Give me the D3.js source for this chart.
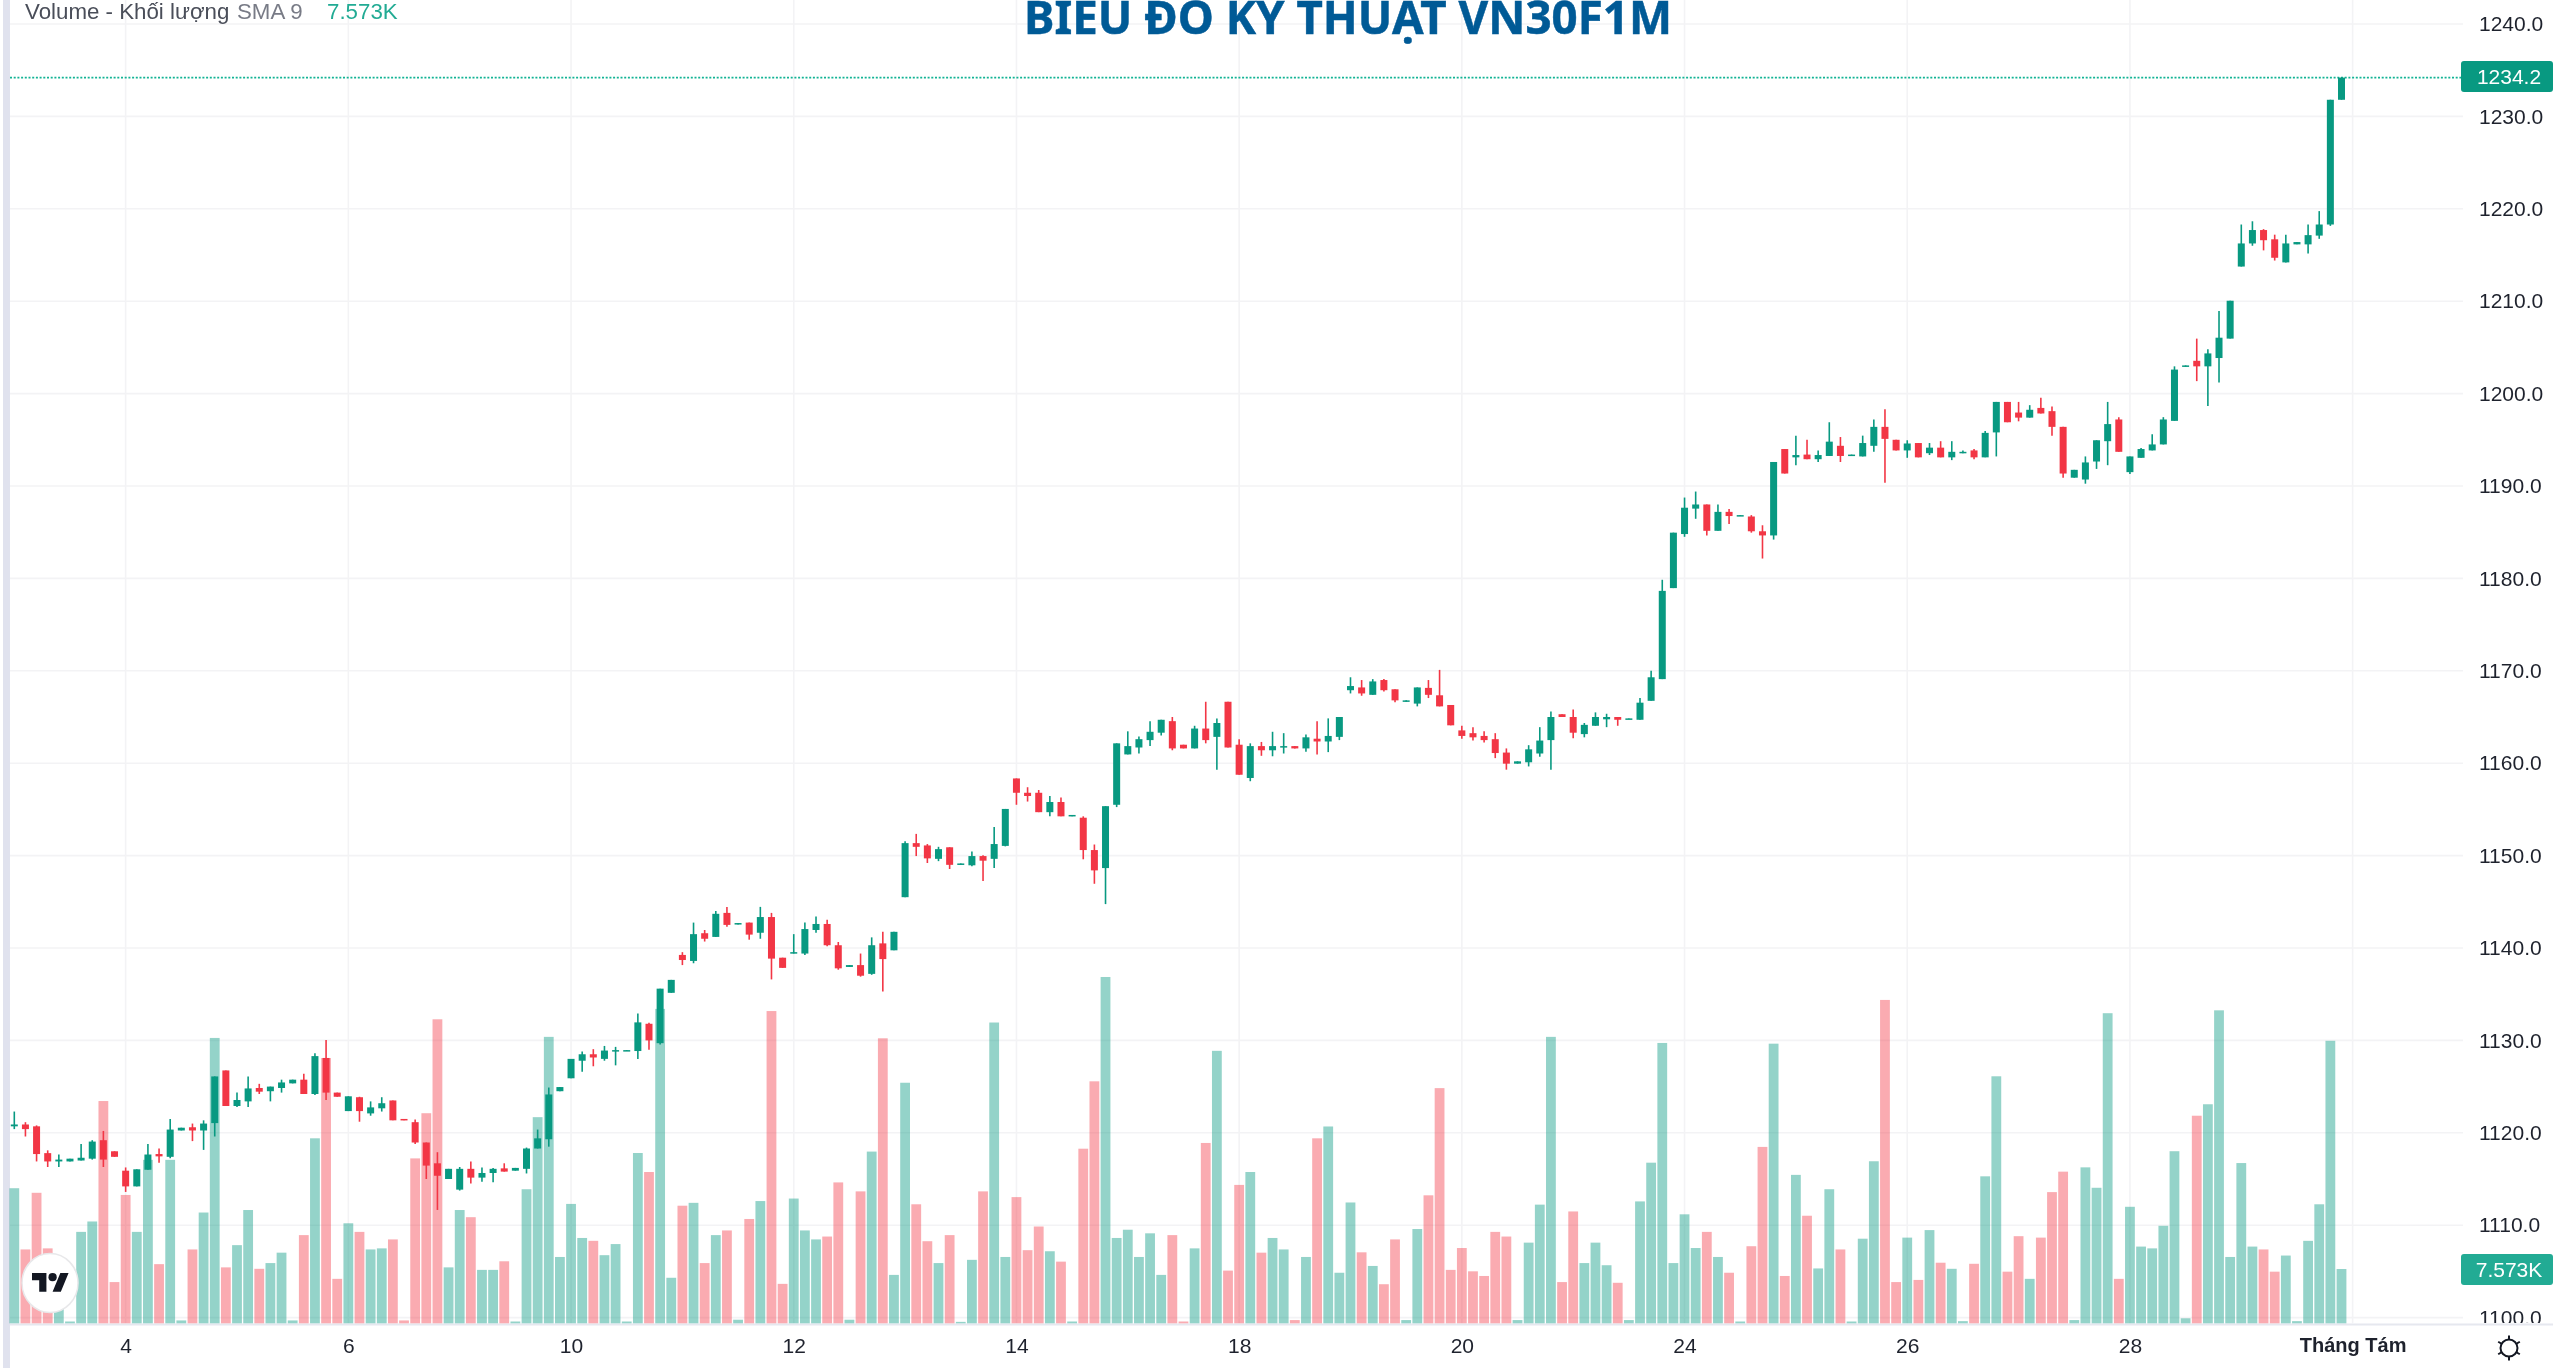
<!DOCTYPE html>
<html><head><meta charset="utf-8">
<style>html,body{margin:0;padding:0;background:#fff;overflow:hidden}svg{display:block;filter:blur(.45px)}</style>
<script src="https://cdn.jsdelivr.net/npm/d3@7"></script></head><body>
<script>
const opens=[1120.7,1120.9,1120.7,1117.8,1116.9,1116.9,1117,1117.2,1119.2,1118,
1115.9,1114.2,1116,1117.7,1117.4,1120.25,1120.6,1120.25,1121.05,1126.75,
1122.9,1123.4,1124.85,1124.5,1124.85,1125.35,1125.75,1124.2,1128.1,1124.35,
1122.35,1123.85,1122.1,1122.65,1123.5,1121.5,1121.15,1118.95,1116.7,1115,
1113.85,1116.1,1115.15,1115.65,1116.15,1115.9,1116.1,1118.3,1119.3,1124.5,
1125.9,1127.8,1128.5,1128,1128.85,1128.85,1128.85,1131.8,1129.7,1135.15,
1139.25,1138.6,1141.6,1141.2,1143.8,1142.55,1142.75,1141.65,1143.35,1138.95,
1139.4,1139.4,1141.95,1142.6,1140.3,1137.95,1138.15,1137.2,1140.5,1139.75,
1145.5,1151.35,1151.1,1149.65,1150.9,1149,1148.95,1149.95,1149.65,1151.05,
1158.35,1156.8,1156.8,1154.7,1155.8,1154.25,1154.1,1150.6,1148.65,1155.5,
1160.95,1161.7,1162.5,1163.3,1164.55,1162,1161.6,1163.75,1162.85,1166.65,
1162,1158.4,1161.85,1161.4,1161.7,1161.85,1161.6,1162.65,1162.35,1162.85,
1167.9,1168.2,1167.4,1169,1168,1166.65,1166.45,1168.15,1167.35,1166.3,
1163.55,1163.25,1162.95,1162.6,1161.15,1159.95,1160.1,1161.05,1162.5,1165.3,
1165,1163.15,1164.05,1164.75,1165,1164.75,1164.7,1166.75,1169.1,1178.95,
1184.8,1187.55,1188,1185.15,1187.2,1186.75,1186.7,1185.1,1184.65,1194,
1193.1,1193.4,1192.9,1193.25,1194.35,1193.25,1193.2,1194.35,1196.4,1195,
1193.85,1194.65,1193.55,1194.15,1193.1,1193.55,1193.85,1193.1,1195.8,1199.1,
1197.95,1197.4,1198.45,1198.1,1196.4,1190.9,1190.7,1192.65,1194.85,1197.2,
1191.5,1193.05,1193.85,1194.5,1197.05,1202.9,1203.55,1202.95,1203.85,1205.95,
1213.75,1216.25,1217.7,1216.7,1214.2,1216.15,1216.15,1217.1,1218.3,1231.8];
const closes=[1120.9,1120.4,1117.7,1116.9,1117.1,1117.2,1117.3,1119.05,1117.1,1117.4,
1114.2,1116.05,1117.65,1117.45,1120.35,1120.55,1120.25,1121,1126.1,1122.9,
1123.55,1124.8,1124.45,1125,1125.45,1125.75,1124.2,1128.3,1124.35,1123.9,
1123.95,1122.35,1122.75,1123.2,1121.35,1121.35,1118.95,1116.45,1115.35,1116.1,
1116.1,1115.15,1115.65,1116.1,1115.8,1116.2,1118.3,1119.4,1124.15,1124.95,
1128,1128.5,1128.15,1128.9,1128.95,1128.95,1131.95,1130,1135.6,1136.55,
1138.7,1141.5,1141,1143.7,1142.5,1142.7,1141.45,1143.35,1138.85,1137.85,
1139.55,1142.05,1142.6,1140.3,1137.8,1138.15,1137,1140.3,1138.8,1141.75,
1151.35,1150.95,1149.7,1150.7,1149,1149.15,1149.95,1149.45,1151.25,1155.05,
1156.8,1156.45,1154.7,1155.8,1154.25,1154.4,1150.6,1148.4,1155.35,1162.15,
1161.85,1162.6,1163.4,1164.7,1161.6,1161.6,1163.75,1162.5,1164.35,1161.7,
1158.75,1161.85,1161.4,1161.85,1161.85,1161.6,1162.8,1162.35,1162.95,1165,
1168.35,1167.55,1168.85,1167.9,1166.8,1166.8,1168.2,1167.4,1166.15,1164.1,
1162.95,1162.8,1162.5,1161.1,1159.95,1160.2,1161.5,1162.45,1165,1165,
1163.3,1164.15,1165,1165,1164.7,1164.85,1166.55,1169.3,1178.65,1184.95,
1187.65,1188,1185.15,1187.2,1186.75,1186.85,1185.1,1184.65,1192.6,1191.35,
1193.35,1192.9,1193.35,1194.8,1193.25,1193.4,1194.65,1196.4,1195.1,1193.85,
1194.6,1193.1,1194.15,1193.1,1193.7,1193.7,1193.1,1195.75,1199.1,1196.9,
1197.4,1198.25,1197.85,1196.4,1191.35,1191.75,1192.55,1194.95,1196.7,1193.7,
1193.2,1194,1194.5,1197.2,1202.6,1203.05,1202.95,1204.35,1206.05,1210.05,
1216.25,1217.7,1216.6,1214.7,1216.25,1216.4,1217.15,1218.3,1231.8,1234.2];
const highs=[1122.3,1121.15,1120.8,1118.1,1117.65,1117.2,1118.8,1119.2,1120.2,1118,
1116.25,1116.05,1118.8,1118.3,1121.5,1120.55,1121,1121.35,1126.1,1126.75,
1124.35,1126.1,1125.3,1125,1125.75,1125.75,1126.4,1128.6,1130.05,1124.35,
1123.95,1123.9,1123.4,1123.85,1123.5,1121.5,1121.45,1118.95,1117.9,1116.1,
1116.3,1116.9,1116.25,1116.2,1116.7,1116.2,1118.4,1120.35,1124.9,1124.95,
1128,1128.8,1129.05,1129.4,1129.3,1128.95,1132.9,1131.9,1135.6,1136.55,
1139.55,1142.75,1141.95,1144,1144.45,1142.7,1142.75,1144.45,1143.8,1138.95,
1141.5,1142.75,1143.4,1143.05,1140.65,1138.15,1139.4,1141.15,1141.75,1141.75,
1151.55,1152.35,1151.25,1150.95,1150.9,1149.15,1150.45,1150.05,1153.1,1155.05,
1158.35,1157.4,1157.1,1156.45,1156.3,1154.4,1154.25,1151.2,1155.35,1162.15,
1163.45,1162.9,1164.55,1164.7,1165,1162,1164.05,1166.65,1164.85,1166.65,
1162.6,1162.15,1162.3,1163.4,1163.25,1161.85,1163.1,1164.55,1164.85,1165,
1169.3,1169,1169.1,1169.1,1168,1166.8,1168.2,1169,1170.1,1166.3,
1164.05,1163.9,1163.45,1163.25,1161.6,1160.2,1161.95,1163.9,1165.6,1165.3,
1165.8,1164.35,1165.5,1165.35,1165,1164.85,1167.05,1170,1179.85,1184.95,
1188.75,1189.4,1188,1188,1187.5,1186.85,1186.85,1185.75,1192.6,1194,
1195.45,1195,1193.85,1196.9,1195.3,1193.4,1195.45,1197.2,1198.3,1195,
1194.95,1194.65,1194.65,1194.85,1194.85,1193.85,1194,1195.95,1199.1,1199.1,
1199.1,1198.75,1199.55,1198.6,1196.4,1191.75,1193.2,1194.95,1199.1,1197.45,
1193.2,1194.1,1195.6,1197.45,1202.95,1203.05,1205.95,1204.8,1208.95,1210.05,
1218.3,1218.65,1217.8,1217.2,1217.2,1216.4,1218.3,1219.75,1231.8,1234.2];
const lows=[1120.4,1119.6,1116.9,1116.3,1116.3,1116.9,1117,1117.1,1116.3,1117.4,
1113.6,1114.2,1116,1116.75,1117.25,1120.25,1119.1,1118.15,1119.6,1122.9,
1122.8,1122.8,1124.2,1123.4,1124.35,1125.35,1124.2,1124.1,1123.55,1123.9,
1122.35,1121.2,1121.85,1122.3,1121.35,1121.35,1118.8,1115,1111.65,1115,
1113.75,1114.5,1114.7,1114.65,1115.8,1115.9,1115.6,1118.3,1118.5,1124.5,
1125.9,1126.6,1127.2,1127.8,1127.3,1128.85,1128,1129,1129.55,1135.15,
1138.15,1138.35,1140.7,1141.2,1142.3,1142.55,1140.9,1141,1136.6,1137.85,
1139.4,1139.25,1141.65,1140.2,1137.65,1137.95,1136.9,1137.1,1135.3,1139.75,
1145.5,1149.95,1149.2,1149.4,1148.55,1149,1148.85,1147.25,1148.65,1151,
1155.5,1155.85,1154.7,1154.25,1154.25,1154.25,1149.6,1146.95,1144.75,1155.25,
1160.95,1161.05,1161.85,1163,1161.4,1161.6,1161.6,1162.15,1159.3,1161.7,
1158.75,1158.05,1160.8,1160.75,1161.05,1161.6,1161.25,1160.95,1161.2,1162.5,
1167.55,1167.3,1167.4,1167.75,1166.6,1166.65,1166.15,1167.05,1166.15,1164.1,
1162.65,1162.45,1162.25,1160.55,1159.3,1159.95,1159.65,1160.7,1159.3,1165,
1162.7,1162.8,1164.05,1163.9,1164.05,1164.75,1164.7,1166.75,1169.1,1178.95,
1184.5,1186.45,1184.65,1185.15,1185.9,1186.75,1184.95,1182.15,1184.2,1191.35,
1192.25,1192.9,1192.6,1193.25,1192.6,1193.25,1193.2,1193.7,1190.35,1193.85,
1193.05,1193.1,1193.35,1193.1,1192.8,1193.55,1192.9,1193.1,1193.2,1196.9,
1197,1197.4,1197.85,1195.45,1190.9,1190.9,1190.25,1191.85,1192.25,1193.7,
1191.3,1193.05,1193.85,1194.5,1197.05,1202.9,1201.35,1198.65,1201.2,1205.95,
1213.75,1216,1215.5,1214.4,1214.2,1216.15,1215.15,1216.75,1218.15,1231.8];
const volumes=[18.84,10.3,18.2,10.45,4.65,0.25,12.75,14.2,31,5.75,
17.9,12.75,22.8,8.25,22.8,0.4,10.3,15.45,39.8,7.8,
10.9,15.8,7.6,8.4,9.85,0.4,12.3,25.8,37,6.2,
13.95,12.75,10.3,10.45,11.7,0.4,23,29.3,42.4,7.8,
15.8,14.8,7.45,7.45,8.65,0.25,18.7,28.75,39.95,9.25,
16.65,11.9,11.5,9.5,11.05,0.25,23.75,21.1,43.85,6.35,
16.4,16.8,8.4,12.3,12.95,0.5,14.55,17.05,43.55,5.5,
17.4,12.95,11.7,12.1,19.65,0.5,18.4,23.95,39.75,6.75,
33.55,16.6,11.45,8.4,12.3,0.2,8.85,18.4,41.95,9.25,
17.6,10.2,13.5,10.05,8.6,0.25,24.35,33.75,48.3,11.9,
13.05,9.25,12.55,6.75,12.3,0.25,10.45,25.15,38,7.35,
19.3,21.1,9.85,11.9,10.3,0.45,9.25,25.8,27.45,7.05,
16.85,9.9,8,5.45,11.7,0.45,13.15,17.85,32.8,7.45,
10.5,7.25,6.6,12.75,12.1,0.45,11.25,16.55,39.95,5.75,
15.6,8.4,11.25,8.1,5.65,0.45,17,22.4,39.1,8.4,
15.2,10.5,12.75,9.25,7.05,0.25,10.75,24.6,39,6.6,
20.7,15,7.65,18.7,10.3,0.25,11.8,22.6,45.1,5.75,
11.95,6.05,13,8.45,7.6,0.3,8.3,20.5,34.45,7.2,
12.15,6.2,11.95,18.3,21.15,0.45,21.75,18.9,43.25,6.2,
16.25,10.7,10.45,13.6,24,0.7,28.95,30.55,43.65,9.25,
22.35,10.7,10.3,7.2,9.45,0.3,11.5,16.6,39.4,7.573];
const priceTicks=d3.range(1100,1241,10);
const timeLabels=["4","6","10","12","14","18","20","24","26","28","Tháng Tám"];
const timeIndex=[10,30,50,70,90,110,130,150,170,190,210];
const lastPrice=1234.2, lastVolume="7.573K";
const titleText="BIEU ĐO KY THUẬT VN30F1M";

const UP="#089981",DOWN="#F23645";
const W=2560,H=1368,paneL=10,paneR=2463,baseY=1323.3;
const x=d3.scaleLinear().domain([0,209]).range([14.3,2341.5]);
const y=d3.scaleLinear().domain([1100,1240]).range([1317.6,24]);
const yv=d3.scaleLinear().domain([0,50]).range([baseY,baseY-358.5]);
const svg=d3.select("body").append("svg").attr("width",W).attr("height",H).style("font-family","'Liberation Sans',Arial,sans-serif");
svg.append("rect").attr("width",W).attr("height",H).attr("fill","#fff");
const defs=svg.append("defs");
defs.append("clipPath").attr("id","pane").append("rect").attr("x",0).attr("y",0).attr("width",W).attr("height",1323);
const bars=d3.range(opens.length);
const isUp=i=>closes[i]>=opens[i];

// grid
const g=svg.append("g").attr("stroke","#f3f3f5").attr("stroke-width",1.6);
g.selectAll(".h").data(priceTicks).join("line").attr("x1",paneL).attr("x2",paneR).attr("y1",d=>y(d)).attr("y2",d=>y(d));
g.selectAll(".v").data(timeIndex).join("line").attr("x1",d=>x(d)).attr("x2",d=>x(d)).attr("y1",0).attr("y2",baseY);

// left band + bottom rule
svg.append("rect").attr("x",3).attr("y",0).attr("width",7).attr("height",H).attr("fill","#e0e2ee");
svg.append("line").attr("x1",paneL).attr("x2",W-7).attr("y1",1324.5).attr("y2",1324.5).attr("stroke","#e6e8ef").attr("stroke-width",2);

// volume
svg.append("g").selectAll("rect").data(bars).join("rect")
 .attr("x",i=>x(i)-4.9).attr("width",9.8)
 .attr("y",i=>yv(volumes[i])).attr("height",i=>baseY-yv(volumes[i]))
 .attr("fill",i=>isUp(i)?UP:DOWN).attr("fill-opacity",i=>isUp(i)?.43:.42);

// last price line
svg.append("line").attr("x1",paneL).attr("x2",paneR).attr("y1",y(lastPrice)).attr("y2",y(lastPrice))
 .attr("stroke","#12b394").attr("stroke-width",1.6).attr("stroke-dasharray","2 1.7");

// candles
const c=svg.append("g");
c.selectAll(".w").data(bars).join("line")
 .attr("x1",i=>x(i)).attr("x2",i=>x(i)).attr("y1",i=>y(highs[i])).attr("y2",i=>y(lows[i]))
 .attr("stroke",i=>isUp(i)?UP:DOWN).attr("stroke-width",1.6);
c.selectAll(".b").data(bars).join("rect")
 .attr("x",i=>x(i)-3.5).attr("width",7)
 .attr("y",i=>y(Math.max(opens[i],closes[i])))
 .attr("height",i=>Math.max(1.5,Math.abs(y(opens[i])-y(closes[i]))))
 .attr("fill",i=>isUp(i)?UP:DOWN);

// price axis
const axisY=svg.append("g").attr("transform","translate(2479,0)").attr("clip-path","url(#pane)")
 .call(d3.axisRight(y).tickValues(priceTicks).tickFormat(d3.format(".1f")).tickSize(0).tickPadding(0));
axisY.select(".domain").remove();
axisY.selectAll("text").attr("font-size",21).attr("fill","#1e222d").attr("font-family","'Liberation Sans',Arial,sans-serif");

// time axis
const axisX=svg.append("g").attr("transform","translate(0,1338)")
 .call(d3.axisBottom(x).tickValues(timeIndex).tickFormat((d,i)=>timeLabels[i]).tickSize(0).tickPadding(0));
axisX.select(".domain").remove();
axisX.selectAll("text").attr("font-size",21).attr("fill","#1e222d").attr("font-family","'Liberation Sans',Arial,sans-serif")
 .attr("font-weight",(d,i)=>i===timeLabels.length-1?"bold":"normal");
axisX.selectAll(".tick").filter((d,i)=>i===timeLabels.length-1).select("text").attr("font-size",20);

// tags
function tag(y0,h,x0,w,fill,t){
 svg.append("rect").attr("x",x0).attr("y",y0).attr("width",w).attr("height",h).attr("rx",3).attr("fill",fill);
 svg.append("text").attr("x",2509).attr("y",y0+h/2+7.5).attr("text-anchor","middle").attr("font-size",21).attr("fill","#fff").text(t);
}
tag(y(lastPrice)-16.5,31,2461,92,UP,d3.format(".1f")(lastPrice));
tag(1254,31,2461,92,"#22ab94",lastVolume);

// legend
svg.append("text").attr("x",25).attr("y",19).attr("font-size",22.3).attr("fill","#4a4e59").text("Volume - Khối lượng");
svg.append("text").attr("x",237).attr("y",19).attr("font-size",22.3).attr("fill","#787b86").text("SMA 9");
svg.append("text").attr("x",327).attr("y",19).attr("font-size",22.3).attr("fill","#22ab94").text(lastVolume);

// title
svg.append("text").attr("x",1024).attr("y",34).attr("font-size",46).attr("font-weight","bold").attr("fill","#005a96").attr("stroke","#005a96").attr("stroke-width",.5)
 .attr("font-family","'Noto Sans',sans-serif").attr("textLength",648).attr("lengthAdjust","spacingAndGlyphs").text(titleText);

// TradingView badge
svg.append("ellipse").attr("cx",50).attr("cy",1283).attr("rx",28).attr("ry",29.5).attr("fill","#fff").attr("stroke","#e8e8ea").attr("stroke-width",1.5);
const logo=svg.append("g").attr("transform","translate(32,1269) scale(1.03)").attr("fill","#131722");
logo.append("path").attr("d","M14 22H7V11H0V4h14v18zM28 22h-8l7.5-18h8L28 22z");
logo.append("circle").attr("cx",20).attr("cy",8).attr("r",4);

// settings gear
const cog=svg.append("g").attr("transform","translate(2509,1348)").attr("fill","none").attr("stroke","#131722").attr("stroke-width",2);
cog.append("circle").attr("r",8.5);
cog.selectAll("line").data(d3.range(0,360,60)).join("line").attr("y1",-8.5).attr("y2",-12.5).attr("transform",d=>`rotate(${d})`);
</script></body></html>
